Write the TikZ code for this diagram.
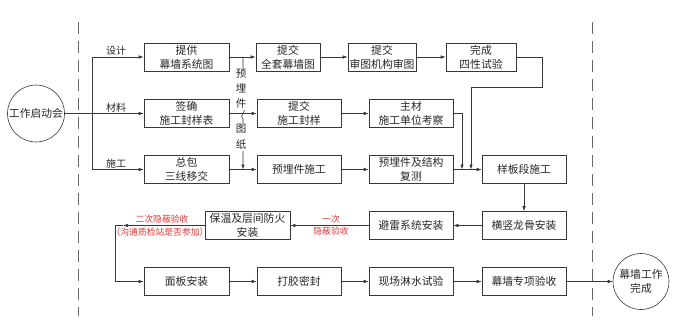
\documentclass[tikz,border=0pt]{standalone}
\usepackage{fontspec}
\newfontfamily\cjk{Noto Sans CJK SC}
\usetikzlibrary{arrows.meta}
\definecolor{lineGray}{RGB}{55,55,55}
\definecolor{dashGray}{RGB}{105,105,105}
\definecolor{noteRed}{RGB}{225,55,55}

\begin{document}
\begin{tikzpicture}[x=1pt, y=-1pt,
  font=\cjk\fontsize{10.8}{14}\selectfont, text=black!85,
  box/.style={draw=lineGray, line width=0.6pt, minimum height=28pt, minimum width=84pt, inner sep=1pt, align=center},
  event/.style={draw=lineGray, line width=0.6pt, circle, minimum size=57pt, inner sep=0pt, align=center},
  link/.style={draw=lineGray, line width=0.6pt},
  flow/.style={link, -{Latex[length=5pt,width=3.5pt]}},
  tag/.style={font=\cjk\fontsize{10}{12}\selectfont, above, inner sep=1pt},
  note/.style={text=noteRed, font=\cjk\fontsize{8.8}{12}\selectfont, align=center, inner sep=0pt}
]
\useasboundingbox (0,0) rectangle (680,325);

% phase separators
\foreach \x in {78, 592}
  \draw[dashGray, line width=0.9pt, dash pattern=on 12pt off 7pt] (\x,22) -- (\x,316);

% start / finish
\node[event] (start) at (36,113.5) {工作启动会};
\node[event, minimum size=56pt] (finish) at (641,281.5) {幕墙工作\\完成};

% row 1
\node[box, minimum width=85pt] (A1) at (186.5,57) {提供\\幕墙系统图};
\node[box, minimum width=64pt] (A2) at (288,57) {提交\\全套幕墙图};
\node[box, minimum width=68pt] (A3) at (382,57) {提交\\审图机构审图};
\node[box, minimum width=70pt] (A4) at (481,57) {完成\\四性试验};
% row 2
\node[box, minimum width=85pt] (B1) at (186.5,113.5) {签确\\施工封样表};
\node[box] (B2) at (299,113.5) {提交\\施工封样};
\node[box] (B3) at (411,113.5) {主材\\施工单位考察};
% row 3
\node[box, minimum width=85pt] (C1) at (186.5,169.5) {总包\\三线移交};
\node[box] (C2) at (299,169.5) {预埋件施工};
\node[box] (C3) at (411,169.5) {预埋件及结构\\复测};
\node[box] (C4) at (524,169.5) {样板段施工};
% row 4
\node[box] (D1) at (524,225.5) {横竖龙骨安装};
\node[box] (D2) at (411,225.5) {避雷系统安装};
\node[box, minimum width=85pt] (D3) at (247.5,225.5) {保温及层间防火\\安装};
% row 5
\node[box, minimum width=85pt] (E1) at (186.5,281.5) {面板安装};
\node[box] (E2) at (299,281.5) {打胶密封};
\node[box] (E3) at (411,281.5) {现场淋水试验};
\node[box] (E4) at (524,281.5) {幕墙专项验收};

% branch from kick-off
\coordinate (hubT) at (92,57);
\coordinate (hubB) at (92,169.5);
\draw[link] (hubT) -- (hubB);
\draw[flow] (start.east) -- (B1.west);
\draw[flow] (hubT) -- (A1.west);
\draw[flow] (hubB) -- (C1.west);
\node[tag] at (116,57) {设计};
\node[tag] at (116,113.5) {材料};
\node[tag] at (116,169.5) {施工};

% drawings drop
\coordinate (drop) at (243,57);
\coordinate (dropEnd) at (243,169.5);
\draw[flow] (drop) -- (243,108) .. controls (248,111) and (238,116) .. (243,119) -- (dropEnd);
\node[fill=white, inner sep=1pt, align=center, font=\cjk\fontsize{10.5}{15}\selectfont] at (241,89) {预\\埋\\件};
\node[fill=white, inner sep=1pt, align=center, font=\cjk\fontsize{10.5}{16}\selectfont] at (241,137) {图\\纸};

% rows
\draw[flow] (A1) -- (A2);
\draw[flow] (A2) -- (A3);
\draw[flow] (A3) -- (A4);
\draw[flow] (B1) -- (B2);
\draw[flow] (B2) -- (B3);
\draw[flow] (C1) -- (C2);
\draw[flow] (C2) -- (C3);
\draw[flow] (C3) -- (C4);

% merge into mock-up
\coordinate (m1) at (462,169.5);
\coordinate (m2) at (471,169.5);
\coordinate (k1) at (542,87);
\draw[flow] (B3.east) -| (m1);
\draw[flow] (A4.east) -| (k1) -| (m2);

% installation loop
\draw[flow] (C4) -- (D1);
\draw[flow] (D1) -- (D2);
\draw[flow] (D2) -- (D3);
\node[note] at (331,225.5) {一次\\隐蔽验收};
\coordinate (r1) at (123,225.5);
\coordinate (r2) at (115,225.5);
\draw[flow] (D3.west) -- (r1);
\draw[flow] (r1) -- (r2) |- (E1.west);
\node[note] at (162,219) {二次隐蔽验收};
\node[note] at (160,232) {（沟通质检站是否参加）};

% closing
\draw[flow] (E1) -- (E2);
\draw[flow] (E2) -- (E3);
\draw[flow] (E3) -- (E4);
\draw[flow] (E4) -- (finish);
\end{tikzpicture}
\end{document}
